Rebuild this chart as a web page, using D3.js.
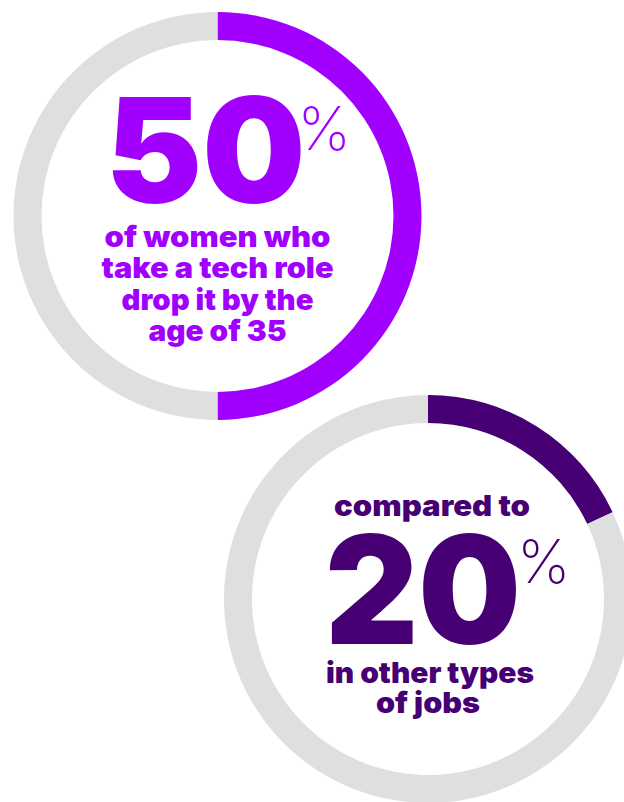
<!DOCTYPE html>
<meta charset="utf-8">
<style>
    body { margin: 0; background: #fff; }
    text { font-family: Inter, "Noto Sans", sans-serif; }
    .big { font-weight: 900; }
    .pct { font-weight: 200; }
    .lines { font-weight: 900; }
</style>
<svg width="624" height="802"></svg>
<script src="https://cdn.jsdelivr.net/npm/d3@7"></script>
<script>

    var shares = [50, 18];
    // the big numbers printed inside
    var numbers = ["50", "20"];
    var headLines = [[], ["compared to"]];
    var footLines = [
        ["of women who", "take a tech role", "drop it by the", "age of 35"],
        ["in other types", "of jobs"]
    ];

    var colors = ["#a100ff", "#460073"],
        grey = "#dfdfdf";

    // layout for each ring, positions relative to the ring centre
    var rings = [
        { cx: 217.5, cy: 216, num: { x: -112, y: -13, w: 200, size: 146 }, pct: { x: 80, y: -66 },
          head: [], foot: [{ y: 31, w: 226 }, { y: 62, w: 232 }, { y: 94, w: 192 }, { y: 125, w: 138 }] },
        { cx: 428, cy: 599, num: { x: -103, y: 45, w: 196, size: 150 }, pct: { x: 89, y: -16 },
          head: [{ y: -83, w: 196, dx: 4 }], foot: [{ y: 84, w: 208, dx: 2 }, { y: 114, w: 104, dx: 0 }] }
    ];

    var svg = d3.select("svg");

    var arc = d3.arc().innerRadius(176).outerRadius(204);
    var pie = d3.pie().sort(null).value(function(d) { return d; });

    rings.forEach(function(r, i) {
        var g = svg.append("g").attr("transform", "translate(" + r.cx + "," + r.cy + ")");

        g.selectAll("path")
            .data(pie([shares[i], 100 - shares[i]]))
            .enter().append("path")
            .attr("d", arc)
            .attr("fill", function(d, j) { return j === 0 ? colors[i] : grey; });

        // number and % sign in one text
        var num = g.append("text").attr("fill", colors[i]);
        num.append("tspan")
            .attr("class", "big")
            .attr("x", r.num.x)
            .attr("y", r.num.y)
            .attr("font-size", r.num.size)
            .attr("textLength", r.num.w)
            .attr("lengthAdjust", "spacingAndGlyphs")
            .text(numbers[i]);
        num.append("tspan")
            .attr("class", "pct")
            .attr("x", r.pct.x)
            .attr("y", r.pct.y)
            .attr("font-size", 60)
            .text("%");

        var lines = headLines[i].map(function(t, j) { return { t: t, p: r.head[j] }; })
            .concat(footLines[i].map(function(t, j) { return { t: t, p: r.foot[j] }; }));

        // the caption lines share one text
        g.append("text")
            .attr("class", "lines")
            .attr("font-size", 29)
            .attr("fill", colors[i])
            .selectAll("tspan")
            .data(lines)
            .enter().append("tspan")
            .attr("x", function(d) { return (d.p.dx || 0) - d.p.w / 2; })
            .attr("y", function(d) { return d.p.y; })
            .attr("textLength", function(d) { return d.p.w; })
            .attr("lengthAdjust", "spacingAndGlyphs")
            .text(function(d) { return d.t; });
    });
</script>
